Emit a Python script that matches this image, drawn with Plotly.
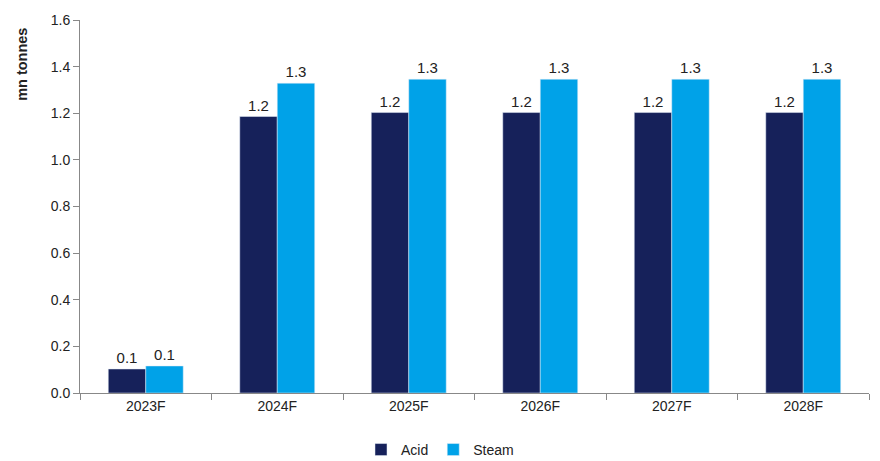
import plotly.graph_objects as go

categories = ["2023F", "2024F", "2025F", "2026F", "2027F", "2028F"]
acid = [0.103, 1.186, 1.203, 1.203, 1.203, 1.203]
steam = [0.116, 1.329, 1.346, 1.346, 1.346, 1.346]
acid_labels = ["0.1", "1.2", "1.2", "1.2", "1.2", "1.2"]
steam_labels = ["0.1", "1.3", "1.3", "1.3", "1.3", "1.3"]

font = "Liberation Sans, Arial, sans-serif"
fig = go.Figure()
fig.add_trace(go.Bar(name="Acid", x=categories, y=acid, marker_color="#16215A",
                     text=acid_labels, textposition="outside", cliponaxis=False,
                     textfont=dict(size=15, color="#222")))
fig.add_trace(go.Bar(name="Steam", x=categories, y=steam, marker_color="#00A2E8",
                     text=steam_labels, textposition="outside", cliponaxis=False,
                     textfont=dict(size=15, color="#222")))

fig.add_annotation(text="<b>mn tonnes</b>", textangle=-90, xref="paper", yref="paper",
                   x=-0.073, y=0.984, xanchor="center", yanchor="top", showarrow=False,
                   font=dict(family=font, size=14.5, color="#222"))

fig.update_layout(
    width=880, height=461,
    margin=dict(l=80, r=11, t=20, b=68),
    plot_bgcolor="white", paper_bgcolor="white",
    barmode="group", bargap=0.43, bargroupgap=0,
    font=dict(family=font, size=14, color="#222"),
    showlegend=True,
    legend=dict(orientation="h", x=0.5, xanchor="center", xref="container",
                y=0.024, yanchor="middle", yref="container",
                font=dict(size=14), itemwidth=30, tracegroupgap=0),
    xaxis=dict(showline=True, linecolor="#888", linewidth=1, ticks="outside",
               tickson="boundaries", ticklen=6, tickcolor="#888", showgrid=False,
               tickfont=dict(size=14)),
    yaxis=dict(range=[0, 1.6], dtick=0.2, tickformat=".1f", showline=True,
               linecolor="#888", linewidth=1, ticks="outside", ticklen=6,
               tickcolor="#888", showgrid=False, zeroline=False,
               tickfont=dict(size=14)),
)
fig.write_html("out.html")
